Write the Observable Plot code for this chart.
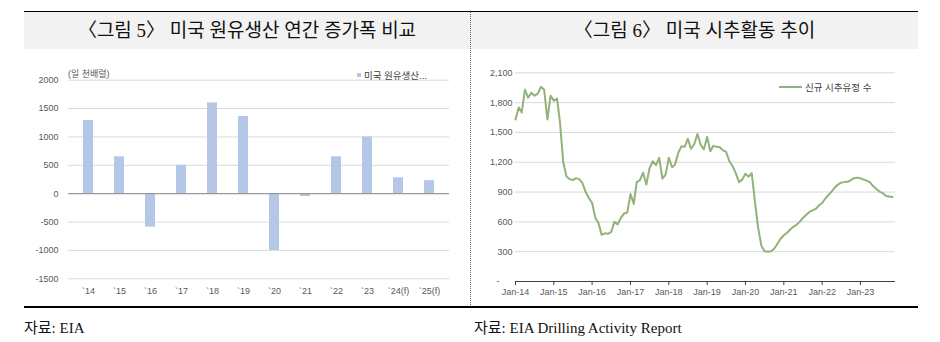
<!DOCTYPE html>
<html>
<head>
<meta charset="utf-8">
<script src="https://cdn.jsdelivr.net/npm/d3@7"></script>
<script src="https://cdn.jsdelivr.net/npm/@observablehq/plot@0.6"></script>
<style>
  html, body { margin: 0; padding: 0; background: #fff; }
  #wrap { position: relative; width: 940px; height: 342px; overflow: hidden; font-family: "Liberation Sans", "Noto Sans CJK KR", sans-serif; }
  .abs { position: absolute; }
  .title { position: absolute; top: 12px; height: 37px; line-height: 37px; text-align: center; font-family: "Liberation Serif", "Noto Sans CJK KR", serif; font-size: 19px; color: #111; }
  .src { position: absolute; top: 316px; font-family: "Liberation Serif", "Noto Sans CJK KR", serif; font-size: 15px; color: #111; }
  .leg { position: absolute; font-size: 9.5px; color: #404040; white-space: nowrap; font-family: "Liberation Sans", "Noto Sans CJK KR", sans-serif; }
</style>
</head>
<body>
<div id="wrap">
  <div class="abs" style="left:24px;top:11px;width:894px;height:1px;background:#000"></div>
  <div class="abs" style="left:24px;top:12px;width:894px;height:37px;background:#f2f2f2"></div>
  <div class="abs" style="left:470px;top:12px;width:0;height:295px;border-left:1px dotted #666"></div>
  <div class="title" style="left:24px;width:446px">〈그림 5〉 미국 원유생산 연간 증가폭 비교</div>
  <div class="title" style="left:471px;width:447px">〈그림 6〉 미국 시추활동 추이</div>
  <div id="c1" class="abs" style="left:0;top:55px"></div>
  <div id="c2" class="abs" style="left:470px;top:55px"></div>
  <div class="leg" style="left:68px;top:67px;font-size:9px;color:#595959">(일 천배럴)</div>
  <div class="abs" style="left:357px;top:73px;width:4px;height:4px;background:#b4c7e7"></div>
  <div class="leg" style="left:364px;top:68px">미국 원유생산...</div>
  <div class="abs" style="left:779px;top:86px;width:23px;height:2px;background:#93b27a"></div>
  <div class="leg" style="left:805px;top:80px">신규 시추유정 수</div>
  <div class="abs" style="left:24px;top:306px;width:894px;height:2px;background:#000"></div>
  <div class="src" style="left:24px">자료: EIA</div>
  <div class="src" style="left:474px">자료: EIA Drilling Activity Report</div>
</div>
<script>
// ---- Chart 1: US crude production annual change (thousand b/d) ----
const years = ["`14","`15","`16","`17","`18","`19","`20","`21","`22","`23","`24(f)","`25(f)"];
const prodChange = [1290, 650, -590, 500, 1600, 1360, -1000, -50, 650, 1000, 280, 230];
const yTicks1 = [-1500, -1000, -500, 0, 500, 1000, 1500, 2000];

// ---- Chart 2: new wells drilled (monthly, Jan-14 ..) ----
const wellsStart = [2014, 0];
const wellsValues = [
  1630, 1750, 1700, 1930, 1850, 1900, 1870, 1890, 1960, 1930, 1630, 1870,
  1820, 1840, 1600, 1200, 1060, 1030, 1020, 1040, 1030, 990, 900, 840,
  790, 640, 590, 470, 485, 480, 500, 600, 575, 640, 685, 695,
  880, 780, 1000, 1020, 1095, 975, 1140, 1210, 1170, 1245, 1035, 1075,
  1245, 1150, 1175, 1295, 1360, 1355, 1435, 1335, 1385, 1485, 1375, 1330,
  1455, 1310, 1365, 1355, 1350, 1320, 1305, 1210, 1160, 1090, 1000, 1025,
  1085, 1055, 1090, 800, 540, 360, 305, 300, 305, 330, 380, 430,
  465, 490, 520, 550, 570, 600, 640, 670, 700, 715, 730, 765,
  790, 835, 870, 905, 945, 975, 995, 1000, 1003, 1020, 1040, 1045,
  1038, 1025, 1015, 1000, 960, 930, 905, 890, 860, 855, 850
];
const yTicks2 = [0, 300, 600, 900, 1200, 1500, 1800, 2100];
const xTickYears = [2014, 2015, 2016, 2017, 2018, 2019, 2020, 2021, 2022, 2023];

const axisFont = {fontFamily: '"Liberation Sans", "Noto Sans CJK KR", sans-serif', fontSize: "9px", background: "transparent", overflow: "visible"};

const bars = years.map((y, i) => ({year: y, value: prodChange[i]}));
const p1 = Plot.plot({
  width: 465, height: 250,
  marginLeft: 68, marginRight: 16, marginTop: 24.7, marginBottom: 26.7,
  style: axisFont,
  x: {domain: years, paddingInner: 0.68, paddingOuter: 0.34, label: null},
  y: {domain: [-1500, 2000], label: null},
  marks: [
    Plot.gridY(yTicks1, {stroke: "#d9d9d9", strokeOpacity: 1}),
    Plot.barY(bars, {x: "year", y: "value", fill: "#b4c7e7"}),
    Plot.ruleY([0], {stroke: "#8c8c8c"}),
    Plot.axisY(yTicks1, {tickSize: 0, tickPadding: 10, tickFormat: d => String(d), fill: "#595959", label: null}),
    Plot.axisX({tickSize: 0, tickPadding: 8.5, fill: "#595959", label: null})
  ]
});
document.getElementById("c1").appendChild(p1);

const wells = wellsValues.map((v, i) => ({date: new Date(Date.UTC(wellsStart[0], wellsStart[1] + i, 1)), value: v}));
const fmtDate = d3.utcFormat("%b-%y");
const p2 = Plot.plot({
  width: 440, height: 250,
  marginLeft: 45, marginRight: 15, marginTop: 17.3, marginBottom: 24,
  style: axisFont,
  x: {type: "utc", domain: [new Date(Date.UTC(2014, 0, 1)), new Date(Date.UTC(2023, 11, 1))], label: null},
  y: {domain: [0, 2100], label: null},
  marks: [
    Plot.gridY(yTicks2.filter(d => d > 0), {stroke: "#d9d9d9", strokeOpacity: 1}),
    Plot.line(wells, {x: "date", y: "value", stroke: "#93b27a", strokeWidth: 2}),
    Plot.ruleY([0], {stroke: "#404040"}),
    Plot.axisY(yTicks2.filter(d => d > 0), {tickSize: 0, tickPadding: 3, fill: "#595959", label: null,
      tickFormat: d => d3.format(",")(d)}),
    Plot.text([0], {y: d => d, frameAnchor: "left", text: () => "-", dx: -16, textAnchor: "end", fill: "#595959"}),
    Plot.axisX(xTickYears.map(y => new Date(Date.UTC(y, 0, 1))), {tickSize: 4, tickPadding: 3.5, stroke: "#404040", fill: "#595959", label: null, tickFormat: fmtDate})
  ]
});
document.getElementById("c2").appendChild(p2);
</script>
</body>
</html>
